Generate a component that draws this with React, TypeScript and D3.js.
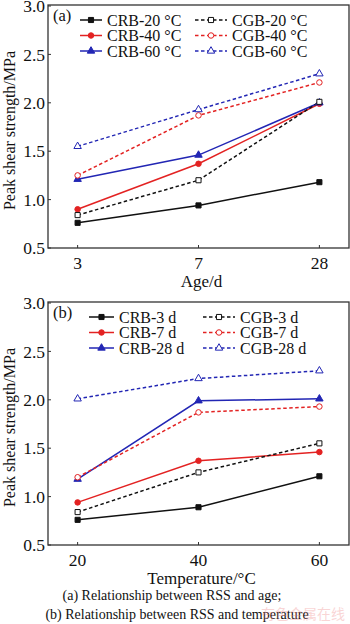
import * as d3 from "d3";

// panel (a): x = age, one series per curing temperature
const ages = ["3", "7", "28"];
const crb20 = [0.76, 0.94, 1.18];
const crb40 = [0.9, 1.37, 1.99];
const crb60 = [1.21, 1.46, 2.0];
const cgb20 = [0.84, 1.2, 2.01];
const cgb40 = [1.25, 1.87, 2.21];
const cgb60 = [1.55, 1.93, 2.3];

// panel (b): x = temperature, one series per age
const temps = ["20", "40", "60"];
const crb3d = [0.76, 0.89, 1.21];
const crb7d = [0.94, 1.37, 1.46];
const crb28d = [1.18, 1.99, 2.01];
const cgb3d = [0.84, 1.25, 1.55];
const cgb7d = [1.2, 1.87, 1.93];
const cgb28d = [2.01, 2.22, 2.3];

const yTicks = [0.5, 1.0, 1.5, 2.0, 2.5, 3.0];

const BLACK = "#111";
const RED = "#e32222";
const BLUE = "#2226b4";
const FONT = "'Liberation Serif', 'Times New Roman', serif";

type Series = {
  label: string;
  values: number[];
  color: string;
  dashed: boolean;
  marker: d3.SymbolType;
  size: number;
};

const styles = [
  { color: BLACK, marker: d3.symbolSquare, size: 26 },
  { color: RED, marker: d3.symbolCircle, size: 24 },
  { color: BLUE, marker: d3.symbolTriangle, size: 24 },
];

const makeSeries = (crb: number[][], cgb: number[][], crbNames: string[], cgbNames: string[]): Series[] => [
  ...crb.map((v, i) => ({ label: crbNames[i], values: v, dashed: false, ...styles[i] })),
  ...cgb.map((v, i) => ({ label: cgbNames[i], values: v, dashed: true, ...styles[i] })),
];

const seriesA = makeSeries(
  [crb20, crb40, crb60],
  [cgb20, cgb40, cgb60],
  ["CRB-20 °C", "CRB-40 °C", "CRB-60 °C"],
  ["CGB-20 °C", "CGB-40 °C", "CGB-60 °C"]
);
const seriesB = makeSeries(
  [crb3d, crb7d, crb28d],
  [cgb3d, cgb7d, cgb28d],
  ["CRB-3 d", "CRB-7 d", "CRB-28 d"],
  ["CGB-3 d", "CGB-7 d", "CGB-28 d"]
);

const Marker = ({ s, x, y }: { s: Series; x: number; y: number }) => (
  <path
    d={d3.symbol().type(s.marker).size(s.size)() as string}
    transform={`translate(${x},${y})`}
    fill={s.dashed ? "#fff" : s.color}
    stroke={s.color}
    strokeWidth={1}
  />
);

type PanelProps = {
  top: number;
  tag: string;
  cats: string[];
  series: Series[];
  xTitle: string;
  legend: { crbX: number[]; cgbX: number[]; y0: number };
};

const Panel = ({ top, tag, cats, series, xTitle, legend }: PanelProps) => {
  const m = { l: 48, r: 349, t: top, b: top + 243 };
  const x = d3.scalePoint<string>().domain(cats).range([m.l, m.r]).padding(0.245);
  const y = d3.scaleLinear().domain([0.5, 3.0]).range([m.b, m.t + 1]);
  const line = d3
    .line<number>()
    .x((_, i) => x(cats[i]) as number)
    .y((d) => y(d));

  return (
    <g fontFamily={FONT} fill="#111">
      {/* lines first, markers on top */}
      {series.map((s) => (
        <path
          key={s.label}
          d={line(s.values) as string}
          fill="none"
          stroke={s.color}
          strokeWidth={1.5}
          strokeDasharray={s.dashed ? "3.5,2.5" : undefined}
        />
      ))}
      {series.map((s) =>
        s.values.map((v, i) => <Marker key={s.label + i} s={s} x={x(cats[i]) as number} y={y(v)} />)
      )}

      <rect x={m.l} y={m.t} width={m.r - m.l} height={m.b - m.t} fill="none" stroke="#333" strokeWidth={1.3} />

      {yTicks.map((t) => (
        <g key={t}>
          <line x1={m.l} x2={m.l + 3} y1={y(t)} y2={y(t)} stroke="#333" />
          <text x={m.l - 3} y={y(t)} dy="0.35em" textAnchor="end" fontSize={17.5}>
            {t.toFixed(1)}
          </text>
        </g>
      ))}
      {cats.map((c) => (
        <g key={c}>
          <line x1={x(c)} x2={x(c)} y1={m.b} y2={m.b - 3} stroke="#333" />
          <text x={x(c)} y={m.b + 21} textAnchor="middle" fontSize={17.5}>
            {c}
          </text>
        </g>
      ))}
      <text x={(m.l + m.r) / 2 + 3} y={m.b + 39} textAnchor="middle" fontSize={17}>
        {xTitle}
      </text>
      <text
        transform={`translate(14.5,${(m.t + m.b) / 2 + 4}) rotate(-90)`}
        textAnchor="middle"
        fontSize={16}
      >
        Peak shear strength/MPa
      </text>

      <text x={m.l + 5} y={m.t + 16} fontSize={16.5}>
        {tag}
      </text>

      {series.map((s, k) => {
        const col = s.dashed ? legend.cgbX : legend.crbX;
        const row = k % 3;
        const ly = legend.y0 + row * 15.5;
        return (
          <g key={"lg" + s.label}>
            <line
              x1={col[0]}
              x2={col[1]}
              y1={ly}
              y2={ly}
              stroke={s.color}
              strokeWidth={1.5}
              strokeDasharray={s.dashed ? "3.5,2.5" : undefined}
            />
            <Marker s={s} x={(col[0] + col[1]) / 2} y={ly} />
            <text x={col[1] + 5} y={ly} dy="0.35em" fontSize={16}>
              {s.label}
            </text>
          </g>
        );
      })}
    </g>
  );
};

export default function App() {
  return (
    <svg
      width={350}
      height={624}
      style={{ position: "absolute", left: 0, top: 0, background: "#fff" }}
    >
      <Panel
        top={5}
        tag="(a)"
        cats={ages}
        series={seriesA}
        xTitle="Age/d"
        legend={{ crbX: [80, 102], cgbX: [195, 227], y0: 20 }}
      />
      <Panel
        top={302}
        tag="(b)"
        cats={temps}
        series={seriesB}
        xTitle="Temperature/°C"
        legend={{ crbX: [89, 114], cgbX: [203, 235], y0: 317 }}
      />
      <g fontFamily={FONT} fontSize={14} fill="#111" textAnchor="middle">
        <text x={172} y={600}>(a) Relationship between RSS and age;</text>
        <text x={177} y={619}>(b) Relationship between RSS and temperature</text>
      </g>
      <text
        x={345}
        y={619}
        textAnchor="end"
        fontFamily="'Noto Sans CJK SC', sans-serif"
        fontSize={14}
        fill="#f08a8a"
        opacity={0.35}
      >
        有色金属在线
      </text>
    </svg>
  );
}
